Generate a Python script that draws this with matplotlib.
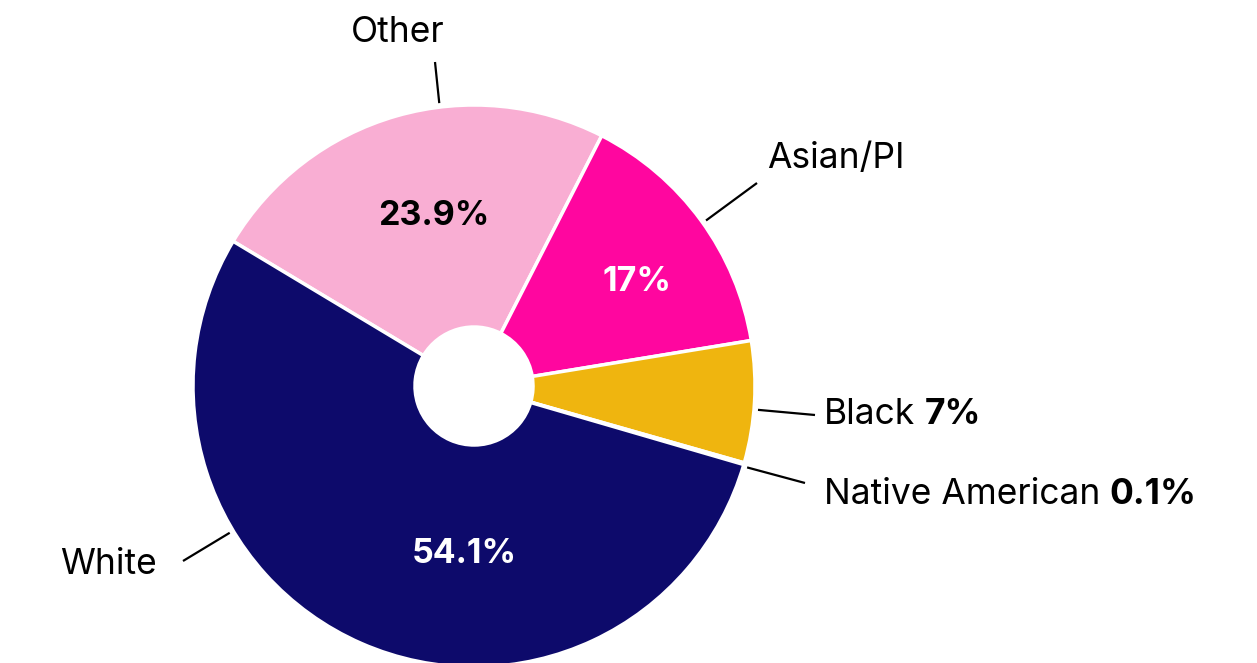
import matplotlib
matplotlib.use("Agg")
import matplotlib.pyplot as plt
import numpy as np

# slice data (clockwise from the upper-left boundary)
groups = ["Other", "Asian/PI", "Black", "Native American", "White"]
shares = [23.9, 14.9, 7.0, 0.1, 54.1]          # sizes as drawn
shown_pct = ["23.9%", "17%", "7%", "0.1%", "54.1%"]  # labels as printed
colors = ["#F9AED3", "#FF069F", "#EFB50F", "#C8F0D5", "#0D0A6B"]

plt.rcParams["font.family"] = ["Inter", "DejaVu Sans"]

W, H = 1257, 663
fig = plt.figure(figsize=(W / 100, H / 100), dpi=100)
ax = fig.add_axes([0, 0, 1, 1])
ax.set_aspect("equal")

cx, cy = 474, H - 386
r_out, r_in = 281, 59

wedges, _ = ax.pie(
    shares,
    colors=colors,
    startangle=149,
    counterclock=False,
    center=(cx, cy),
    radius=r_out,
    wedgeprops=dict(width=r_out - r_in, edgecolor="white", linewidth=2.5),
    frame=True,
)
ax.set_xlim(0, W)
ax.set_ylim(0, H)
ax.axis("off")

FS = 25.5

# percentages inside the big slices
inside = {0: ("#000000", 434, 216), 1: ("#FFFFFF", 637, 282), 4: ("#FFFFFF", 464, 554)}
for i, (col, x, y) in inside.items():
    ax.text(x, H - y, shown_pct[i], color=col, fontsize=24.5, fontweight="bold",
            ha="center", va="center")

# outside labels: (angle of leader start, leader end, text anchor, alignment, show pct)
outer = {
    0: (97, (435, 62), (398, 32), "center", False),
    1: (35.5, (757, 183), (767, 158), "left", False),
    2: (-4.8, (815, 415), (824, 414), "left", True),
    3: (-16.6, (805, 483), (824, 494), "left", True),
    4: (211, (183, 561), (157, 564), "right", False),
}
renderer = fig.canvas.get_renderer()
for i, (ang, end, anchor, ha, with_pct) in outer.items():
    a = np.deg2rad(ang)
    sx, sy = cx + (r_out + 4) * np.cos(a), cy + (r_out + 4) * np.sin(a)
    ax.plot([sx, end[0]], [sy, H - end[1]], color="black", lw=1.6,
            solid_capstyle="butt")
    t = ax.text(anchor[0], H - anchor[1], groups[i], fontsize=FS,
                ha=ha, va="center", color="black")
    if with_pct:
        bb = t.get_window_extent(renderer)
        ax.text(bb.x1 + 9, H - anchor[1], shown_pct[i], fontsize=FS,
                fontweight="bold", ha="left", va="center", color="black")

fig.savefig("out.png", dpi=100, facecolor="white")
